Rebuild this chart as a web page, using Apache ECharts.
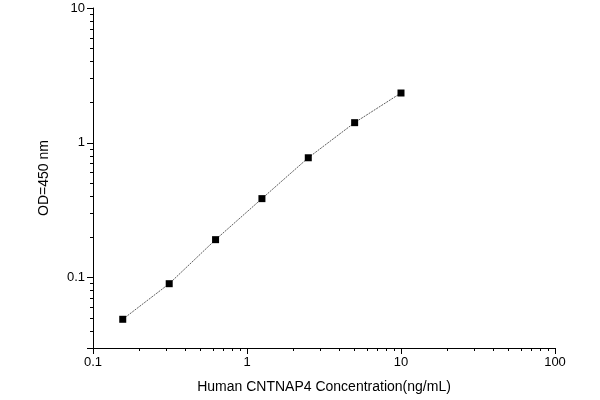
<!DOCTYPE html>
<html><head><meta charset="utf-8">
<script src="https://cdn.jsdelivr.net/npm/echarts@6/dist/echarts.min.js"></script>
<style>html,body{margin:0;padding:0;background:#fff}#c{width:600px;height:400px}</style>
</head><body><div id="c"></div>
<script>
const concentrations = [0.156, 0.3125, 0.625, 1.25, 2.5, 5, 10];
const odValues = [0.049, 0.090, 0.191, 0.385, 0.774, 1.41, 2.34];
const xTitle = 'Human CNTNAP4 Concentration(ng/mL)';
const yTitle = 'OD=450 nm';
const pts = concentrations.map((c, i) => [c, odValues[i]]);
const fmt = v => {
  const l = Math.log10(v);
  if (Math.abs(l - Math.round(l)) > 1e-6) return '';
  return String(parseFloat(v.toPrecision(3)));
};
const axisCommon = {
  type: 'log', logBase: 10,
  axisLine: {show: true, lineStyle: {color: '#000', width: 1}},
  axisTick: {show: true, inside: false, length: 6, lineStyle: {color: '#000'}},
  minorTick: {show: true, splitNumber: 9, length: 3, lineStyle: {color: '#000'}},
  splitLine: {show: false},
  axisLabel: {color: '#000', fontSize: 13, fontFamily: 'Arial, Liberation Sans', formatter: fmt},
  nameTextStyle: {color: '#000', fontSize: 14, fontFamily: 'Arial, Liberation Sans'}
};
const chart = echarts.init(document.getElementById('c'));
chart.setOption({
  animation: false,
  grid: {left: 93, right: 45, top: 8, bottom: 52},
  xAxis: Object.assign({}, axisCommon, {min: 0.1, max: 100, name: xTitle, nameLocation: 'middle', nameGap: 32}),
  yAxis: Object.assign({}, axisCommon, {min: 0.03, max: 10, name: yTitle, nameLocation: 'middle', nameGap: 42}),
  series: [{
    type: 'line', data: pts, symbol: 'rect', symbolSize: 7,
    itemStyle: {color: '#000'},
    lineStyle: {color: '#333', width: 0.8, type: [2, 1]}
  }]
});
</script></body></html>
